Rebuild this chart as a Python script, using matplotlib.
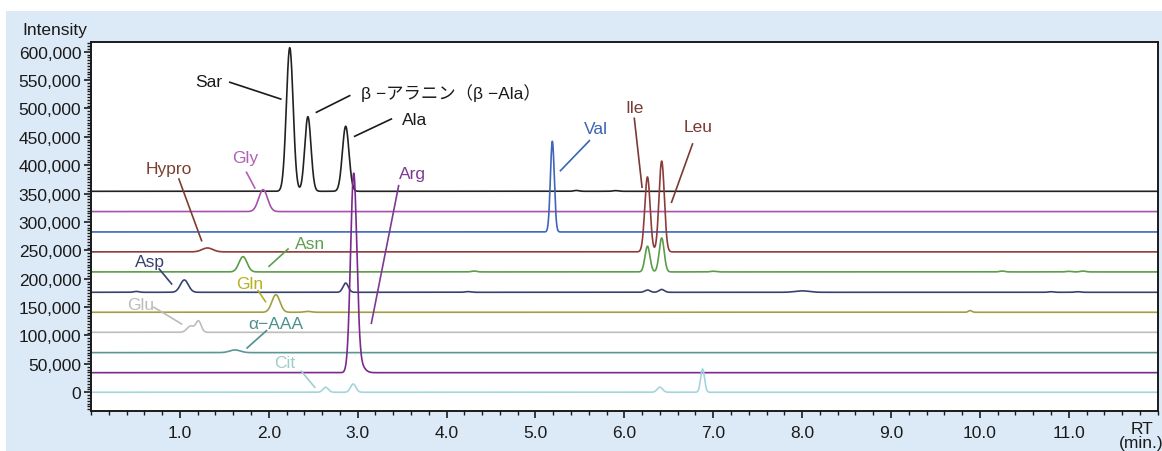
"""Stacked amino-acid chromatograms (intensity vs. retention time)."""
import matplotlib
matplotlib.use("Agg")
import matplotlib.pyplot as plt
import numpy as np
from matplotlib.patches import Rectangle
from matplotlib.ticker import FixedLocator, MultipleLocator, FuncFormatter

plt.rcParams["font.family"] = ["Liberation Sans", "Noto Sans CJK JP", "DejaVu Sans"]

# trace order, top to bottom
traces = ["black", "gly", "val", "brown", "green", "asp", "gln", "glu", "aaa", "arg", "cit"]
baselines = [354000, 318300, 282400, 247300, 212000, 176100, 140900, 105600, 69800, 34500, 0]
line_colors = ["#222222", "#A452AA", "#3F66B8", "#8E3B3B", "#5C9C48", "#36436F",
               "#A0A040", "#BDBDBD", "#5A9696", "#7A2A8C", "#A5D4DE"]

# peaks per trace: (retention time [min], height above baseline, sigma [min])
peaks_black = [(2.236, 253000, 0.038), (2.44, 131500, 0.035), (2.865, 114600, 0.037),
               (5.46, 1500, 0.03), (5.9, 1200, 0.03)]
peaks_gly = [(1.936, 38600, 0.05)]
peaks_val = [(5.19, 159700, 0.022)]
peaks_brown = [(1.31, 6900, 0.06), (6.26, 132000, 0.03), (6.42, 160000, 0.03)]
peaks_green = [(1.71, 26900, 0.045), (6.26, 45200, 0.028), (6.42, 59800, 0.028),
               (4.31, 1500, 0.03), (7.0, 1200, 0.03), (10.25, 1500, 0.03),
               (11.0, 1000, 0.03), (11.16, 1500, 0.03)]
peaks_asp = [(0.51, 1500, 0.03), (1.05, 21700, 0.045), (2.865, 16200, 0.03),
             (4.24, 1200, 0.03), (6.26, 4000, 0.03), (6.42, 5000, 0.03),
             (8.0, 2500, 0.08), (10.8, 1000, 0.03), (11.1, 1000, 0.03)]
peaks_gln = [(2.08, 31000, 0.045), (2.44, 1500, 0.04), (9.89, 3000, 0.02)]
peaks_glu = [(1.12, 11000, 0.04), (1.21, 19500, 0.03)]
peaks_aaa = [(1.62, 4700, 0.06)]
peaks_arg = [(2.955, 345000, 0.035), (3.02, 15000, 0.05)]
peaks_cit = [(2.64, 8800, 0.03), (2.95, 14600, 0.03), (6.40, 9000, 0.03), (6.88, 41000, 0.022)]
all_peaks = [peaks_black, peaks_gly, peaks_val, peaks_brown, peaks_green, peaks_asp,
             peaks_gln, peaks_glu, peaks_aaa, peaks_arg, peaks_cit]

# labels: text, colour, text position, leader line start, leader line end, alignment
label_text = ["Sar", "β −アラニン（β −Ala）", "Ala", "Gly", "Hypro", "Asn", "Asp", "Gln",
              "Glu", "α−AAA", "Arg", "Cit", "Val", "Ile", "Leu"]
label_color = ["#1a1a1a", "#1a1a1a", "#1a1a1a", "#B060B0", "#7B3F2E", "#5E9E50", "#37426E",
               "#B5B020", "#BBBBBB", "#4E9090", "#7D3A93", "#A0CCCC", "#3A64B4",
               "#7A3A35", "#7A3A35"]
label_pos = [(1.326, 547100), (3.04, 528400), (3.50, 479700), (1.73, 414000), (0.88, 394600),
             (2.461, 261200), (0.663, 230800), (1.787, 190800), (0.558, 153800),
             (2.077, 120300), (3.621, 384500), (2.18, 51600), (5.682, 463800),
             (6.112, 502000), (6.835, 468600)]
label_ha = ["center", "left", "left", "center", "center", "center", "center", "center",
            "center", "center", "center", "center", "center", "center", "center"]
leader_from = [(1.562, 546100), (2.536, 493200), (2.966, 450900), (1.749, 387500),
               (0.989, 375600), (2.217, 252400), (0.767, 217200), (1.88, 179000),
               (0.708, 149700), (1.974, 108500), (3.461, 363900), (2.367, 37000),
               (5.607, 443200), (6.112, 482600), (6.767, 437400)]
leader_to = [(2.135, 516500), (2.91, 522500), (3.379, 481400), (1.843, 359900),
             (1.244, 267000), (2.003, 221900), (0.907, 190800), (1.963, 159600),
             (1.019, 120300), (1.756, 78000), (3.154, 121500), (2.517, 8800),
             (5.281, 390300), (6.199, 361100), (6.531, 334700)]

W, H = 1162, 452
FS = 12.5
fig = plt.figure(figsize=(W / 100, H / 100), dpi=100)
bg = Rectangle((6 / W, 0), 1 - 6 / W, 1 - 11.7 / H, transform=fig.transFigure,
               facecolor="#DCEAF7", edgecolor="none", zorder=-10)
fig.add_artist(bg)
ax = fig.add_axes([91 / W, 1 - 411.7 / H, (1157.7 - 91) / W, (411.7 - 43.3) / H])
ax.set_zorder(1)
ax.set_facecolor("white")

rt = np.linspace(0, 12, 6001)
for base, peaks, color in zip(baselines, all_peaks, line_colors):
    y = np.full_like(rt, float(base))
    for c, h, s in peaks:
        y += h * np.exp(-0.5 * ((rt - c) / s) ** 2)
    ax.plot(rt, y, color=color, lw=1.2, solid_joinstyle="round")

for txt, col, pos, p0, p1, ha in zip(label_text, label_color, label_pos,
                                     leader_from, leader_to, label_ha):
    ax.plot([p0[0], p1[0]], [p0[1], p1[1]], color=col, lw=1.2)
    ax.text(pos[0], pos[1], txt, color=col, fontsize=FS, ha=ha, va="center")

ax.set_xlim(0, 12)
ax.set_ylim(-32500, 616500)
ax.xaxis.set_major_locator(FixedLocator(np.arange(1, 12)))
ax.xaxis.set_minor_locator(MultipleLocator(0.2))
ax.xaxis.set_major_formatter(FuncFormatter(lambda v, p: f"{v:.1f}"))
ax.yaxis.set_major_locator(FixedLocator(np.arange(0, 600001, 50000)))
ax.yaxis.set_minor_locator(MultipleLocator(5000))
ax.yaxis.set_major_formatter(FuncFormatter(lambda v, p: f"{int(v):,}"))
ax.tick_params(which="major", direction="out", length=5, width=1.2, labelsize=FS,
               colors="#1a1a1a")
ax.tick_params(which="minor", direction="out", length=3, width=1, colors="#1a1a1a")
ax.tick_params(axis="x", pad=5)
ax.tick_params(axis="y", pad=2)
for sp in ax.spines.values():
    sp.set_linewidth(1.4)
    sp.set_color("#1a1a1a")

fig.text(22.7 / W, 1 - 30 / H, "Intensity", fontsize=FS, ha="left", va="center",
         color="#1a1a1a")
fig.text(1141.7 / W, 1 - 430 / H, "RT", fontsize=FS, ha="center", va="center",
         color="#1a1a1a", zorder=5)
fig.text(1141 / W, 1 - 443.5 / H, "(min.)", fontsize=FS, ha="center", va="center",
         color="#1a1a1a", zorder=5)

fig.savefig("out.png", dpi=100)
